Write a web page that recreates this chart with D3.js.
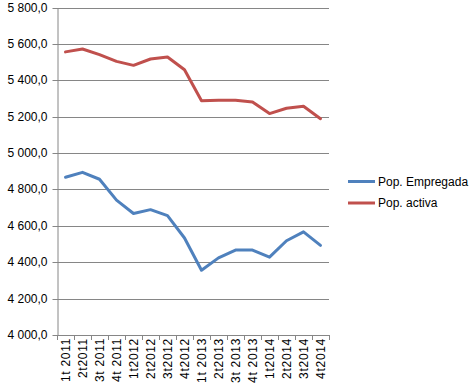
<!DOCTYPE html>
<html><head><meta charset="utf-8">
<script src="https://cdn.jsdelivr.net/npm/d3@7"></script>
<style>body{margin:0;background:#fff}svg{display:block}text{font-family:"Liberation Sans",Arial,sans-serif;fill:#000}</style>
</head><body><div id="c"></div>
<script>
const categories=["1t 2011","2t2011","3t 2011","4t 2011","1t2012","2t2012","3t2012","4t2012","1t 2013","2t2013","3t 2013","4t 2013","1t2014","2t2014","3t2014","4t2014"];
const empregada=[4867,4894,4856,4741,4668,4689,4656,4533,4356,4424,4467,4467,4428,4518,4567,4493];
const activa=[5556,5572,5541,5504,5482,5517,5528,5458,5287,5290,5290,5281,5217,5246,5257,5189];
const yTicks=[4000,4200,4400,4600,4800,5000,5200,5400,5600,5800];
const seriesNames=["Pop. Empregada","Pop. activa"];
const colors=["#4F81BD","#C0504D"];

const W=475,H=392;
const L=57,R=329,T=7.5,B=335;
const svg=d3.select("#c").append("svg").attr("width",W).attr("height",H);
const x=d3.scaleBand().domain(categories).range([L,R]);
const y=d3.scaleLinear().domain([4000,5800]).range([B,T]);
const fmt=v=>{const s=v.toFixed(1).replace(".",",");const [i,d]=s.split(",");return i.replace(/\B(?=(\d{3})+(?!\d))/g," ")+","+d;};

// gridlines
svg.append("g").selectAll("line").data(yTicks.filter(v=>v>4000)).join("line")
 .attr("x1",L).attr("x2",R).attr("y1",d=>Math.round(y(d))+0.5).attr("y2",d=>Math.round(y(d))+0.5)
 .attr("stroke","#868686").attr("stroke-width",1);

// y axis
const ya=svg.append("g").attr("transform",`translate(${L+0.5},0)`)
 .call(d3.axisLeft(y).tickValues(yTicks).tickFormat(fmt).tickSize(5).tickPadding(5).tickSizeOuter(0));
ya.select(".domain").attr("stroke","#868686");
ya.selectAll(".tick line").attr("stroke","#868686");
ya.selectAll(".tick").attr("transform",d=>`translate(0,${Math.round(y(d))+0.5})`);
ya.selectAll("text").attr("font-size",12).attr("font-family","Liberation Sans, Arial, sans-serif").attr("fill","#000");

// x axis
const xg=svg.append("g");
xg.append("line").attr("x1",L).attr("x2",R).attr("y1",B+0.5).attr("y2",B+0.5).attr("stroke","#868686");
const bounds=categories.map(c=>x(c)).concat([R]);
xg.selectAll("line.t").data(bounds).join("line").attr("class","t")
 .attr("x1",d=>Math.round(d)+0.5).attr("x2",d=>Math.round(d)+0.5).attr("y1",B).attr("y2",B+5).attr("stroke","#868686");
xg.selectAll("text").data(categories).join("text")
 .attr("transform",d=>`translate(${x(d)+x.bandwidth()/2+4},${B+3}) rotate(-90)`)
 .attr("text-anchor","end").attr("font-size",12).attr("letter-spacing",0.7).text(d=>d);

// lines
const line=d3.line().x((d,i)=>x(categories[i])+x.bandwidth()/2).y(d=>y(d));
[empregada,activa].forEach((s,k)=>{
 svg.append("path").datum(s).attr("d",line).attr("fill","none").attr("stroke",colors[k])
  .attr("stroke-width",3).attr("stroke-linejoin","round").attr("stroke-linecap","round");
});

// legend
seriesNames.forEach((n,k)=>{
 const ly=181.5+k*21.5;
 svg.append("line").attr("x1",348).attr("x2",375).attr("y1",ly).attr("y2",ly).attr("stroke",colors[k]).attr("stroke-width",3);
 svg.append("text").attr("x",378).attr("y",ly+4).attr("font-size",12).text(n);
});
</script></body></html>
